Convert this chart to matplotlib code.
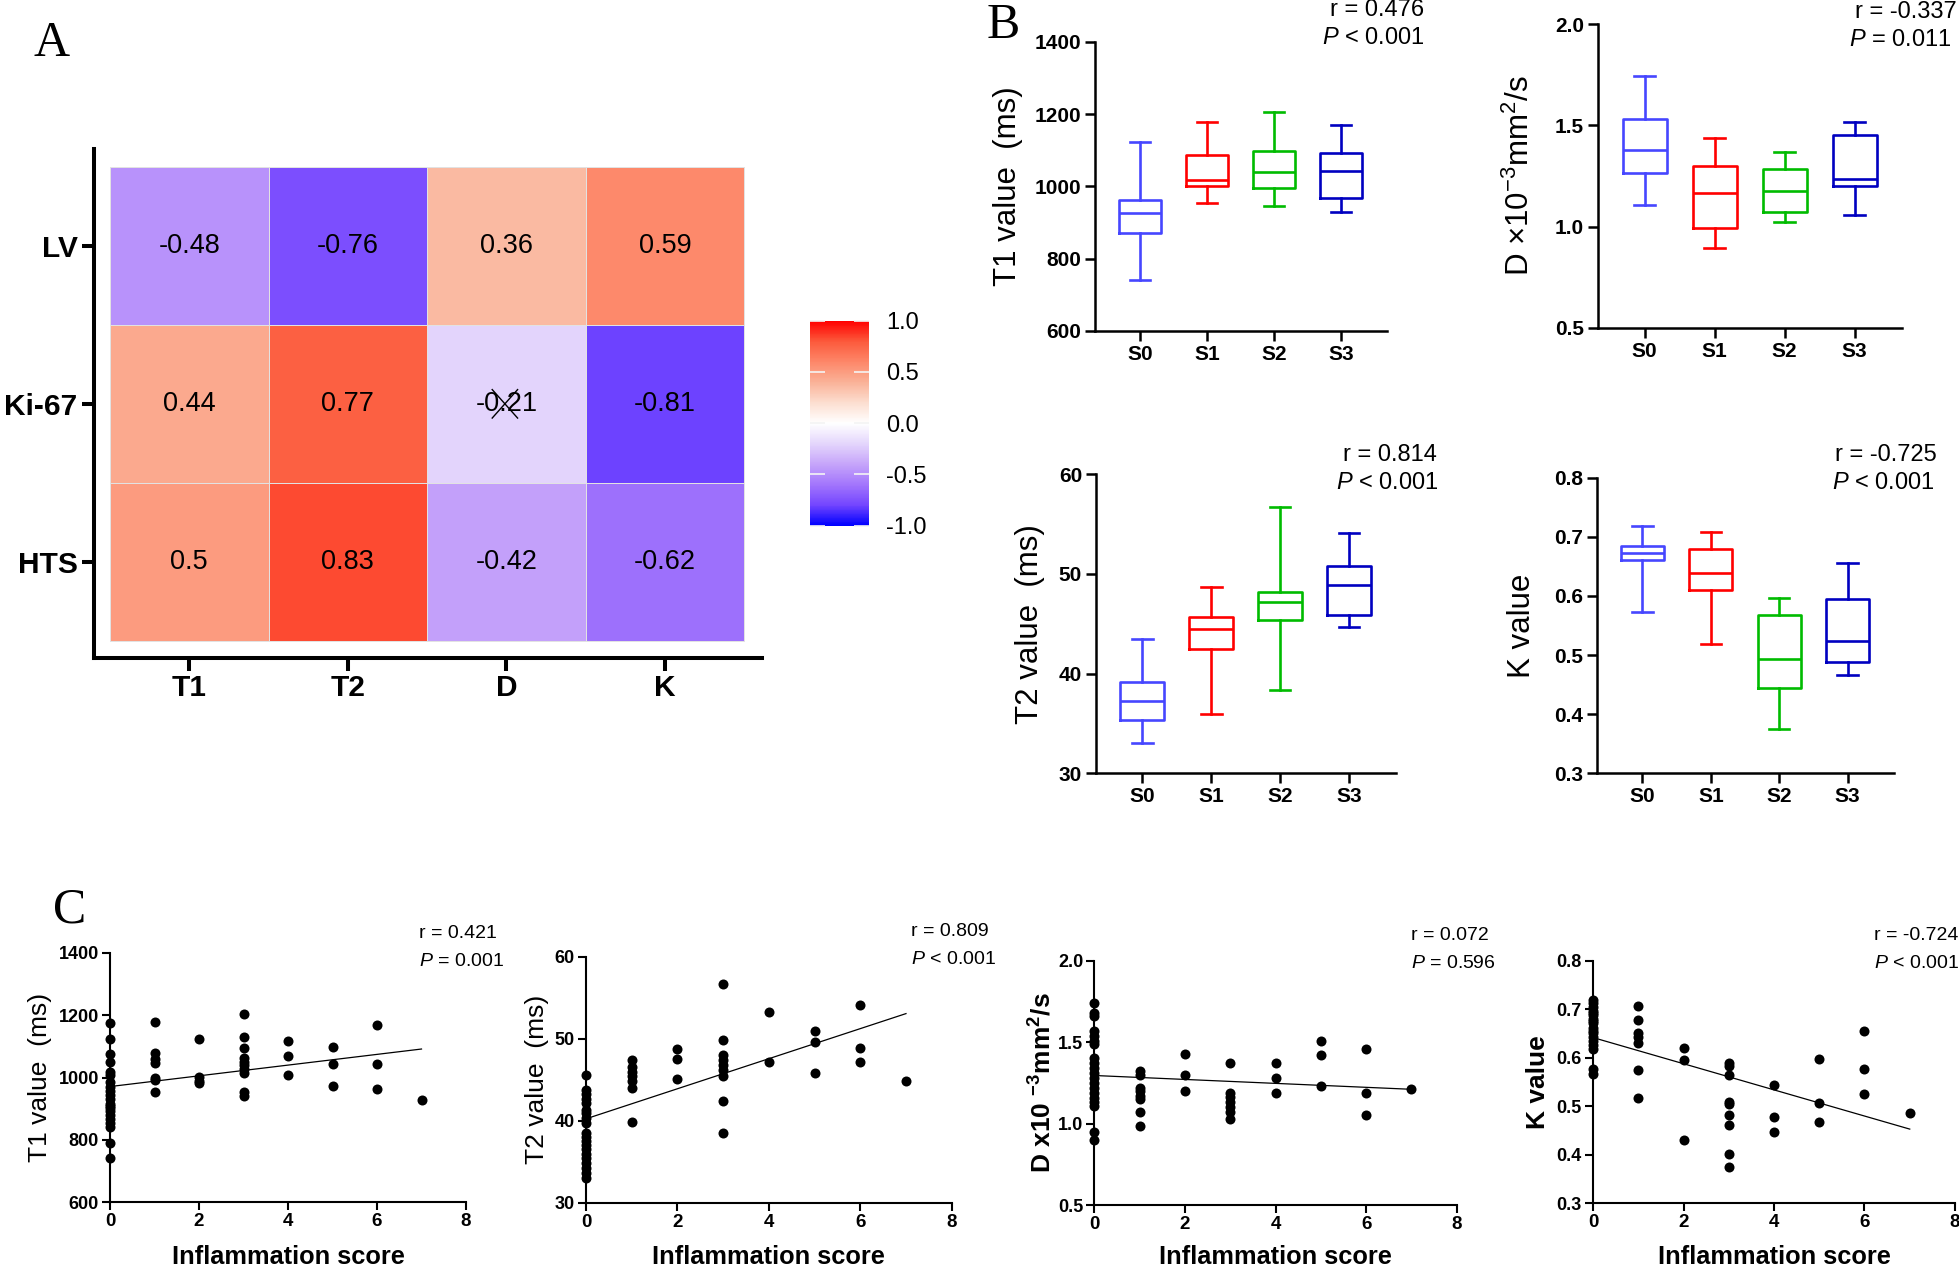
import numpy as np
import matplotlib
matplotlib.use('Agg')
import matplotlib.pyplot as plt
from matplotlib.colors import LinearSegmentedColormap

plt.rcParams['font.family'] = ['Liberation Sans', 'DejaVu Sans']
plt.rcParams['mathtext.fontset'] = 'custom'
plt.rcParams['mathtext.rm'] = 'Liberation Sans'
plt.rcParams['mathtext.it'] = 'Liberation Sans:italic'
plt.rcParams['mathtext.bf'] = 'Liberation Sans:bold'
plt.rcParams['axes.unicode_minus'] = False

# ---------------- data ----------------
heat_rows = ['LV', 'Ki-67', 'HTS']
heat_cols = ['T1', 'T2', 'D', 'K']
heat_vals = np.array([[-0.48, -0.76, 0.36, 0.59],
                      [0.44, 0.77, -0.21, -0.81],
                      [0.5, 0.83, -0.42, -0.62]])
heat_ns = [[False, False, False, False],
           [False, False, True, False],
           [False, False, False, False]]

stages = ['S0', 'S1', 'S2', 'S3']
# (whisker low, Q1, median, Q3, whisker high)
t1_box = [(741, 870, 925, 962, 1123), (953, 1002, 1017, 1087, 1179),
          (945, 996, 1039, 1098, 1205), (928, 967, 1043, 1093, 1171)]
d_box = [(1.105, 1.263, 1.380, 1.532, 1.746), (0.894, 0.993, 1.168, 1.298, 1.436),
         (1.024, 1.072, 1.177, 1.283, 1.370), (1.055, 1.199, 1.233, 1.451, 1.517)]
t2_box = [(33.0, 35.3, 37.3, 39.2, 43.5), (35.9, 42.5, 44.5, 45.7, 48.7),
          (38.4, 45.4, 47.2, 48.2, 56.7), (44.7, 45.9, 48.9, 50.8, 54.1)]
k_box = [(0.573, 0.660, 0.672, 0.684, 0.719), (0.518, 0.610, 0.638, 0.679, 0.708),
         (0.375, 0.444, 0.494, 0.567, 0.596), (0.466, 0.489, 0.524, 0.594, 0.656)]

scores = [0, 1, 2, 3, 4, 5, 6, 7]
t1_by_score = [
    [1174, 1122, 1074, 1051, 1019, 1008, 987, 971, 958, 944, 930, 915, 908, 901, 892, 880, 866, 853, 840, 791, 741],
    [1177, 1078, 1060, 1047, 1000, 992, 952],
    [1125, 1003, 990, 981],
    [1203, 1131, 1096, 1061, 1050, 1040, 1026, 1013, 955, 942],
    [1117, 1070, 1008],
    [1097, 1043, 974],
    [1169, 1042, 963],
    [927],
]
t2_by_score = [
    [45.6, 43.8, 43.3, 42.7, 42.2, 41.3, 40.9, 40.3, 39.7, 38.5, 38.0, 37.5, 37.0, 36.5, 36.0, 35.4, 34.8, 34.2, 33.6, 33.0],
    [47.4, 46.6, 45.9, 45.4, 44.8, 44.0, 39.8],
    [48.7, 47.5, 45.1],
    [56.7, 49.8, 48.0, 47.4, 46.8, 46.2, 45.4, 42.4, 38.5],
    [53.3, 47.1],
    [50.9, 49.6, 45.8],
    [54.1, 48.9, 47.1],
    [44.8],
]
d_by_score = [
    [1.74, 1.68, 1.66, 1.57, 1.54, 1.51, 1.49, 1.40, 1.37, 1.34, 1.31, 1.28, 1.25, 1.22, 1.19, 1.16, 1.13, 1.11, 0.95, 0.90],
    [1.32, 1.30, 1.22, 1.20, 1.17, 1.15, 1.07, 0.985],
    [1.43, 1.30, 1.20],
    [1.37, 1.19, 1.165, 1.135, 1.10, 1.07, 1.03],
    [1.37, 1.28, 1.19],
    [1.51, 1.42, 1.23],
    [1.46, 1.19, 1.05],
    [1.21],
]
k_by_score = [
    [0.720, 0.712, 0.705, 0.697, 0.692, 0.688, 0.680, 0.675, 0.671, 0.662, 0.656, 0.652, 0.643, 0.635,
     0.626, 0.617, 0.576, 0.567],
    [0.707, 0.678, 0.652, 0.642, 0.631, 0.574, 0.518],
    [0.621, 0.595, 0.430],
    [0.590, 0.582, 0.564, 0.509, 0.505, 0.483, 0.461, 0.401, 0.375],
    [0.544, 0.477, 0.446],
    [0.597, 0.507, 0.467],
    [0.656, 0.577, 0.525],
    [0.487],
]

box_colors = ['#4646FF', '#FF0000', '#00BB00', '#0000C0']

# ---------------- figure ----------------
W, H = 1959, 1270
fig = plt.figure(figsize=(W / 100, H / 100), dpi=100)


def add_ax(l, t, r, b):
    return fig.add_axes([l / W, 1 - b / H, (r - l) / W, (b - t) / H])


def ftext(x, y, s, **kw):
    fig.text(x / W, 1 - y / H, s, **kw)


# ---------------- panel A: heatmap ----------------
cmap = LinearSegmentedColormap.from_list('corr', [
    (0.00, (0 / 255, 0 / 255, 255 / 255)),
    (0.10, (116 / 255, 70 / 255, 255 / 255)),
    (0.20, (163 / 255, 118 / 255, 252 / 255)),
    (0.30, (198 / 255, 165 / 255, 250 / 255)),
    (0.40, (228 / 255, 214 / 255, 252 / 255)),
    (0.50, (1, 1, 1)),
    (0.60, (252 / 255, 222 / 255, 208 / 255)),
    (0.70, (250 / 255, 178 / 255, 152 / 255)),
    (0.80, (253 / 255, 135 / 255, 105 / 255)),
    (0.90, (252 / 255, 90 / 255, 60 / 255)),
    (1.00, (1, 0, 0)),
])

axA = add_ax(94.3, 149.3, 762.3, 657.7)
nr, nc = heat_vals.shape
mesh = axA.pcolormesh(np.arange(nc + 1) - 0.5, np.arange(nr + 1) - 0.5, heat_vals,
                      cmap=cmap, vmin=-1, vmax=1, edgecolors='#e2e2e2', linewidth=0.5)
axA.set_xlim(-0.599, nc - 0.5 + 0.113)
axA.set_ylim(nr - 0.5 + 0.106, -0.61)
for i in range(nr):
    for j in range(nc):
        axA.text(j, i, f"{heat_vals[i, j]:g}", ha='center', va='center', fontsize=19.5)
        if heat_ns[i][j]:
            axA.plot([j - 0.09, j + 0.07], [i - 0.09, i + 0.09], color='black', lw=1.0)
            axA.plot([j - 0.09, j + 0.07], [i + 0.09, i - 0.09], color='black', lw=1.0)
for s in ['top', 'right']:
    axA.spines[s].set_visible(False)
for s in ['left', 'bottom']:
    axA.spines[s].set_linewidth(2.9)
axA.set_xticks(range(nc))
axA.set_xticklabels(heat_cols, fontsize=21.5, fontweight='bold')
axA.set_yticks(range(nr))
axA.set_yticklabels(heat_rows, fontsize=21.5, fontweight='bold')
axA.tick_params(length=9, width=2.9, pad=3)

cax = add_ax(810, 320.7, 869.3, 525.7)
cb = fig.colorbar(mesh, cax=cax, ticks=[-1, -0.5, 0, 0.5, 1])
cb.outline.set_visible(False)
cb.ax.set_yticklabels([f"{v:.1f}" for v in [-1, -0.5, 0, 0.5, 1]])
cax.tick_params(which='both', left=True, right=True, direction='in', color='#f4f4f4',
                length=11, width=1.2, labelsize=17, pad=12, labelright=True, labelleft=False)
cax.minorticks_off()

ftext(52, 44, 'A', fontsize=36, family=['Liberation Serif', 'DejaVu Serif'], ha='center', va='center')
ftext(1003, 26, 'B', fontsize=36, family=['Liberation Serif', 'DejaVu Serif'], ha='center', va='center')
ftext(70, 910, 'C', fontsize=36, family=['Liberation Serif', 'DejaVu Serif'], ha='center', va='center')


# ---------------- panel B: box plots ----------------
def box_panel(box, vals, ylim, yticks, yfmt, ylabel, label_x, r_txt, p_txt, r_pos, p_pos):
    l, t, r, b = box
    ax = add_ax(l, t, r, b)
    stats = [dict(whislo=a, q1=q1, med=m, q3=q3, whishi=e) for (a, q1, m, q3, e) in vals]
    res = ax.bxp(stats, positions=range(len(stats)), widths=0.63, capwidths=0.3,
                 showfliers=False)
    lw = 1.9
    for i, col in enumerate(box_colors):
        res['boxes'][i].set(color=col, linewidth=lw)
        res['medians'][i].set(color=col, linewidth=lw)
        for k in (2 * i, 2 * i + 1):
            res['whiskers'][k].set(color=col, linewidth=lw)
            res['caps'][k].set(color=col, linewidth=lw)
    ax.set_xlim(-0.67, 3.68)
    ax.set_ylim(*ylim)
    ax.set_yticks(yticks)
    ax.set_yticklabels([yfmt.format(v) for v in yticks], fontsize=15, fontweight='bold')
    ax.set_xticks(range(len(stages)))
    ax.set_xticklabels(stages, fontsize=15, fontweight='bold')
    for s in ['top', 'right']:
        ax.spines[s].set_visible(False)
    for s in ['left', 'bottom']:
        ax.spines[s].set_linewidth(1.8)
    ax.tick_params(length=7, width=1.8, pad=3)
    ax.set_ylabel(ylabel, fontsize=22.5, va='center')
    ax.yaxis.set_label_coords((label_x - l) / (r - l), 0.5)
    ftext(r_pos[0], r_pos[1], r_txt, fontsize=17, ha='right', va='center')
    ftext(p_pos[0], p_pos[1], p_txt, fontsize=17, ha='right', va='center')
    return ax


box_panel((1095, 41.7, 1386.7, 331), t1_box, (600, 1400), [600, 800, 1000, 1200, 1400], '{:.0f}',
          'T1 value  (ms)', 1008, 'r = 0.476', r'$\mathit{P}$ < 0.001', (1424, 10), (1425, 37.5))
box_panel((1597.7, 24.3, 1902.3, 327.7), d_box, (0.5, 2.0), [0.5, 1.0, 1.5, 2.0], '{:.1f}',
          r'D ×10$^{-3}$mm$^{2}$/s', 1520, 'r = -0.337', r'$\mathit{P}$ = 0.011', (1957, 12), (1952, 40))
box_panel((1096, 474.3, 1396, 773.3), t2_box, (30, 60), [30, 40, 50, 60], '{:.0f}',
          'T2 value  (ms)', 1030, 'r = 0.814', r'$\mathit{P}$ < 0.001', (1437, 455), (1439, 483))
box_panel((1596.7, 477.7, 1894, 773.3), k_box, (0.3, 0.8), [0.3, 0.4, 0.5, 0.6, 0.7, 0.8], '{:.1f}',
          'K value', 1522, 'r = -0.725', r'$\mathit{P}$ < 0.001', (1937, 455), (1935, 483))


# ---------------- panel C: scatter plots ----------------
def scatter_panel(box, by_score, ylim, yticks, yfmt, ylabel, label_bold, label_x, r_txt, p_txt, txt_x, txt_y):
    l, t, r, b = box
    ax = add_ax(l, t, r, b)
    xs = np.concatenate([[sc] * len(v) for sc, v in zip(scores, by_score)])
    ys = np.concatenate([np.asarray(v, float) for v in by_score])
    ax.scatter(xs, ys, s=52, color='black', clip_on=False, zorder=3, linewidths=0)
    coef = np.polyfit(xs, ys, 1)
    lx = np.array([xs.min(), xs.max()])
    ax.plot(lx, np.polyval(coef, lx), color='black', lw=0.9, zorder=2)
    ax.set_xlim(0, 8)
    ax.set_ylim(*ylim)
    ax.set_xticks([0, 2, 4, 6, 8])
    ax.set_xticklabels(['0', '2', '4', '6', '8'], fontsize=13.5, fontweight='bold')
    ax.set_yticks(yticks)
    ax.set_yticklabels([yfmt.format(v) for v in yticks], fontsize=13, fontweight='bold')
    for s in ['top', 'right']:
        ax.spines[s].set_visible(False)
    for s in ['left', 'bottom']:
        ax.spines[s].set_linewidth(1.5)
    ax.tick_params(length=6, width=1.5, pad=2)
    ax.set_ylabel(ylabel, fontsize=19, fontweight='bold' if label_bold else 'normal', va='center')
    ax.yaxis.set_label_coords((label_x - l) / (r - l), 0.5)
    ax.set_xlabel('Inflammation score', fontsize=18.3, fontweight='bold', va='center')
    ax.xaxis.set_label_coords(0.5, (b - 1257) / (b - t))
    ftext(txt_x, txt_y[0], r_txt, fontsize=14, ha='left', va='center')
    ftext(txt_x, txt_y[1], p_txt, fontsize=14, ha='left', va='center')
    return ax


scatter_panel((110, 952.7, 466, 1202.3), t1_by_score, (600, 1400), [600, 800, 1000, 1200, 1400], '{:.0f}',
              'T1 value  (ms)', False, 40, 'r = 0.421', r'$\mathit{P}$ = 0.001', 419, (933, 961))
scatter_panel((586, 956.7, 951.7, 1202.7), t2_by_score, (30, 60), [30, 40, 50, 60], '{:.0f}',
              'T2 value  (ms)', False, 537, 'r = 0.809', r'$\mathit{P}$ < 0.001', 911, (931, 959))
scatter_panel((1094.3, 960.7, 1456.7, 1205), d_by_score, (0.5, 2.0), [0.5, 1.0, 1.5, 2.0], '{:.1f}',
              r'D x10 $^{\mathbf{-3}}$mm$^{\mathbf{2}}$/s', True, 1043, 'r = 0.072', r'$\mathit{P}$ = 0.596',
              1411, (935, 963))
scatter_panel((1593, 960.7, 1955, 1203.3), k_by_score, (0.3, 0.8), [0.3, 0.4, 0.5, 0.6, 0.7, 0.8], '{:.1f}',
              'K value', True, 1538, 'r = -0.724', r'$\mathit{P}$ < 0.001', 1874, (935, 963))

fig.savefig('out.png', dpi=100)
